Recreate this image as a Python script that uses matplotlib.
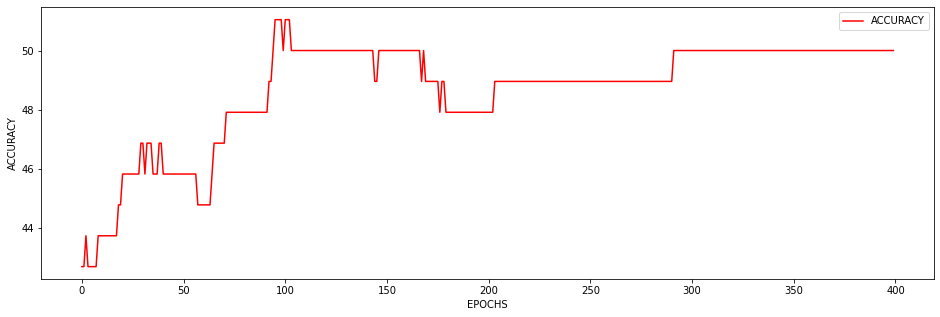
import matplotlib
matplotlib.use("Agg")
import matplotlib.pyplot as plt
import numpy as np

# accuracy levels (multiples of 1/96)
levels = [42.708, 43.750, 44.792, 45.833, 46.875, 47.917, 48.958, 50.000, 51.042]

# runs: (first epoch, last epoch, level index)
runs = [
    (0, 1, 0), (2, 2, 1), (3, 7, 0), (8, 17, 1), (18, 19, 2), (20, 28, 3),
    (29, 30, 4), (31, 31, 3), (32, 34, 4), (35, 37, 3), (38, 39, 4),
    (40, 56, 3), (57, 63, 2), (64, 64, 3), (65, 70, 4), (71, 91, 5),
    (92, 93, 6), (94, 94, 7), (95, 98, 8), (99, 99, 7), (100, 102, 8),
    (103, 143, 7), (144, 145, 6), (146, 166, 7), (167, 167, 6), (168, 168, 7),
    (169, 175, 6), (176, 176, 5), (177, 178, 6), (179, 202, 5),
    (203, 290, 6), (291, 399, 7),
]

accuracy = []
for a, b, k in runs:
    accuracy += [levels[k]] * (b - a + 1)
epochs = list(range(len(accuracy)))

fig = plt.figure(figsize=(940 / 72, 317 / 72), dpi=72)
ax = fig.add_axes([41.3 / 940, 1 - 279 / 317, (934 - 41.3) / 940, (279 - 7.3) / 317])
ax.plot(epochs, accuracy, color="red", label="ACCURACY")
ax.set_xlabel("EPOCHS")
ax.set_ylabel("ACCURACY")
ax.legend(loc="upper right")
fig.savefig("out.png", dpi=72)
